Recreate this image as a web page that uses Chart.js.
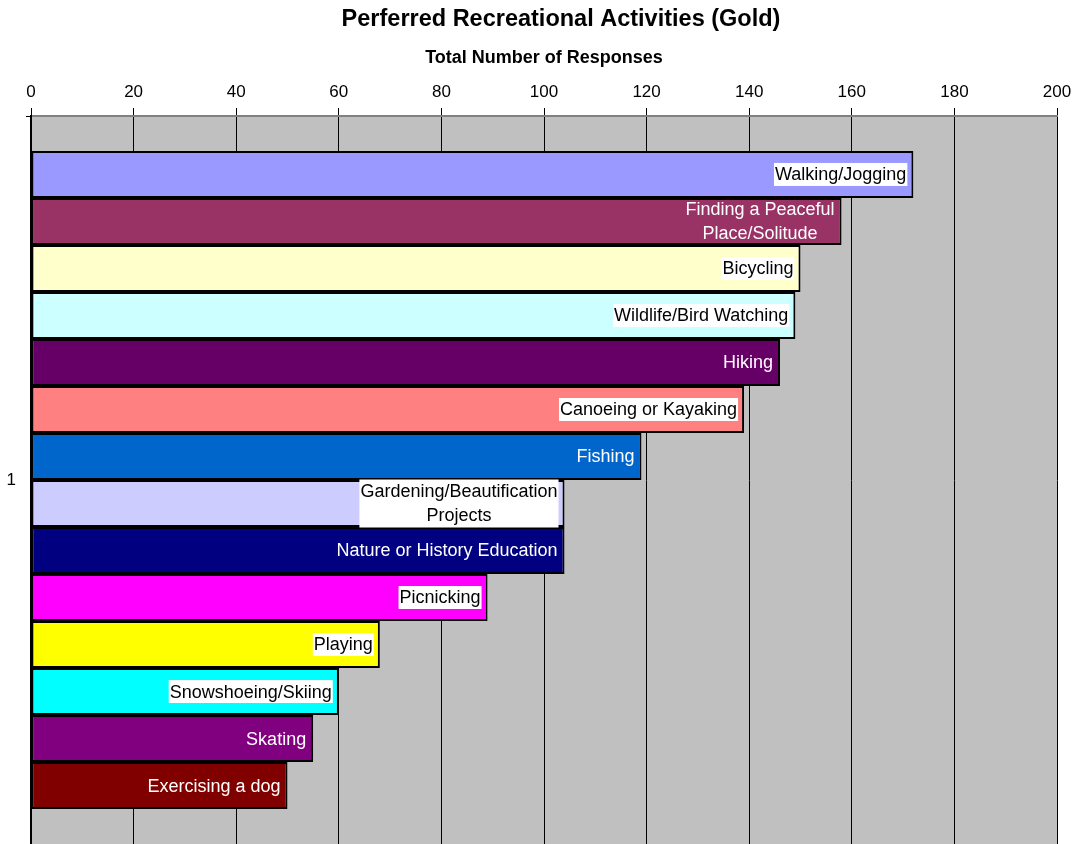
<!DOCTYPE html>
<html>
<head>
<meta charset="utf-8">
<title>Perferred Recreational Activities (Gold)</title>
<script src="https://cdn.jsdelivr.net/npm/chart.js@4/dist/chart.umd.min.js"></script>
<style>
  html, body { margin: 0; padding: 0; background: #fff; }
  #wrap { width: 1078px; height: 844px; }
</style>
</head>
<body>
<div id="wrap"><canvas id="chart"></canvas></div>
<script>
// data
const chartTitle = 'Perferred Recreational Activities (Gold)';
const categories = ['1'];
const activities = [
    'Walking/Jogging', 'Finding a Peaceful Place/Solitude', 'Bicycling', 'Wildlife/Bird Watching',
    'Hiking', 'Canoeing or Kayaking', 'Fishing', 'Gardening/Beautification Projects',
    'Nature or History Education', 'Picnicking', 'Playing', 'Snowshoeing/Skiing',
    'Skating', 'Exercising a dog'
];
const responses = [172, 158, 150, 149, 146, 139, 119, 104, 104, 89, 68, 60, 55, 50];
const barColors = [
    '#9999FF', '#993366', '#FFFFCC', '#CCFFFF', '#660066', '#FF8080', '#0066CC',
    '#CCCCFF', '#000080', '#FF00FF', '#FFFF00', '#00FFFF', '#800080', '#800000'
];
// labels on a white box (dark text) or plain white text
const boxedLabel = [true, false, true, true, false, true, false, true, false, true, true, true, false, false];
const labelLines = [
    ['Walking/Jogging'], ['Finding a Peaceful', 'Place/Solitude'], ['Bicycling'], ['Wildlife/Bird Watching'],
    ['Hiking'], ['Canoeing or Kayaking'], ['Fishing'], ['Gardening/Beautification', 'Projects'],
    ['Nature or History Education'], ['Picnicking'], ['Playing'], ['Snowshoeing/Skiing'],
    ['Skating'], ['Exercising a dog']
];
const xTicks = [0, 20, 40, 60, 80, 100, 120, 140, 160, 180, 200];

const FONT = 'Arial, "Liberation Sans", sans-serif';

const plotBackground = {
    id: 'plotBackground',
    beforeDraw(chart) {
        const { ctx, chartArea } = chart;
        ctx.save();
        ctx.fillStyle = '#C0C0C0';
        ctx.fillRect(chartArea.left, chartArea.top, chartArea.right - chartArea.left, chartArea.bottom - chartArea.top);
        ctx.restore();
    }
};

// main title sits a bit right of centre in the original, so it is drawn here
const mainTitle = {
    id: 'mainTitle',
    afterDraw(chart) {
        const ctx = chart.ctx;
        ctx.save();
        ctx.font = 'bold 23.5px ' + FONT;
        ctx.fillStyle = '#000';
        ctx.textAlign = 'center';
        ctx.textBaseline = 'middle';
        ctx.fillText(chartTitle, 561, 20);
        ctx.restore();
    }
};

const barLabels = {
    id: 'barLabels',
    afterDatasetsDraw(chart) {
        const ctx = chart.ctx;
        ctx.save();
        ctx.font = '18px ' + FONT;
        ctx.textBaseline = 'middle';
        ctx.textAlign = 'center';
        chart.data.datasets.forEach((ds, i) => {
            const bar = chart.getDatasetMeta(i).data[0];
            const lines = labelLines[i];
            const lineH = 24;
            const w = Math.max(...lines.map(l => ctx.measureText(l).width));
            const right = bar.x - 7;
            const cx = right - w / 2;
            const h = lines.length * lineH;
            const top = bar.y - h / 2;
            if (boxedLabel[i]) {
                ctx.fillStyle = '#FFFFFF';
                const boxH = lines.length > 1 ? h : 23;
                ctx.fillRect(right - w - 1, bar.y - boxH / 2, w + 2, boxH);
                ctx.fillStyle = '#000000';
            } else {
                ctx.fillStyle = '#FFFFFF';
            }
            lines.forEach((l, k) => {
                ctx.fillText(l, cx, top + lineH * k + lineH / 2 + 1);
            });
        });
        ctx.restore();
    }
};

const datasets = activities.map((name, i) => ({
    label: name,
    data: [responses[i]],
    backgroundColor: barColors[i],
    borderColor: '#000000',
    borderWidth: 2,
    borderSkipped: false,
    categoryPercentage: 0.904,
    barPercentage: 1
}));

new Chart(document.getElementById('chart'), {
    type: 'bar',
    data: { labels: categories, datasets: datasets },
    plugins: [plotBackground, barLabels, mainTitle],
    options: {
        indexAxis: 'y',
        responsive: true,
        maintainAspectRatio: false,
        animation: false,
        layout: { padding: { left: 0, right: 21, top: 41.6, bottom: 0 } },
        plugins: {
            legend: { display: false },
            tooltip: { enabled: false },
            title: { display: false }
        },
        scales: {
            x: {
                position: 'top',
                min: 0,
                max: 200,
                afterBuildTicks(scale) { scale.ticks = xTicks.map(v => ({ value: v })); },
                afterFit(scale) {
                    scale.height = 74.4;
                    scale.paddingLeft = 0;
                    scale.paddingRight = 0;
                },
                ticks: { color: '#000', font: { family: FONT, size: 17 }, padding: 5 },
                grid: { color: '#000', lineWidth: 1, tickLength: 8, drawTicks: true },
                border: { color: '#808080', width: 2 },
                title: {
                    display: true,
                    text: 'Total Number of Responses',
                    color: '#000',
                    font: { family: FONT, size: 18, weight: 'bold' },
                    padding: { top: 6, bottom: 4 }
                }
            },
            y: {
                afterFit(scale) {
                    scale.width = 31;
                    scale.paddingTop = 0;
                    scale.paddingBottom = 0;
                },
                ticks: { color: '#000', font: { family: FONT, size: 17 }, padding: 10 },
                grid: { offset: true, drawOnChartArea: false, drawTicks: true, tickLength: 5, color: '#000' },
                border: { color: '#000', width: 2 }
            }
        }
    }
});
</script>
</body>
</html>
